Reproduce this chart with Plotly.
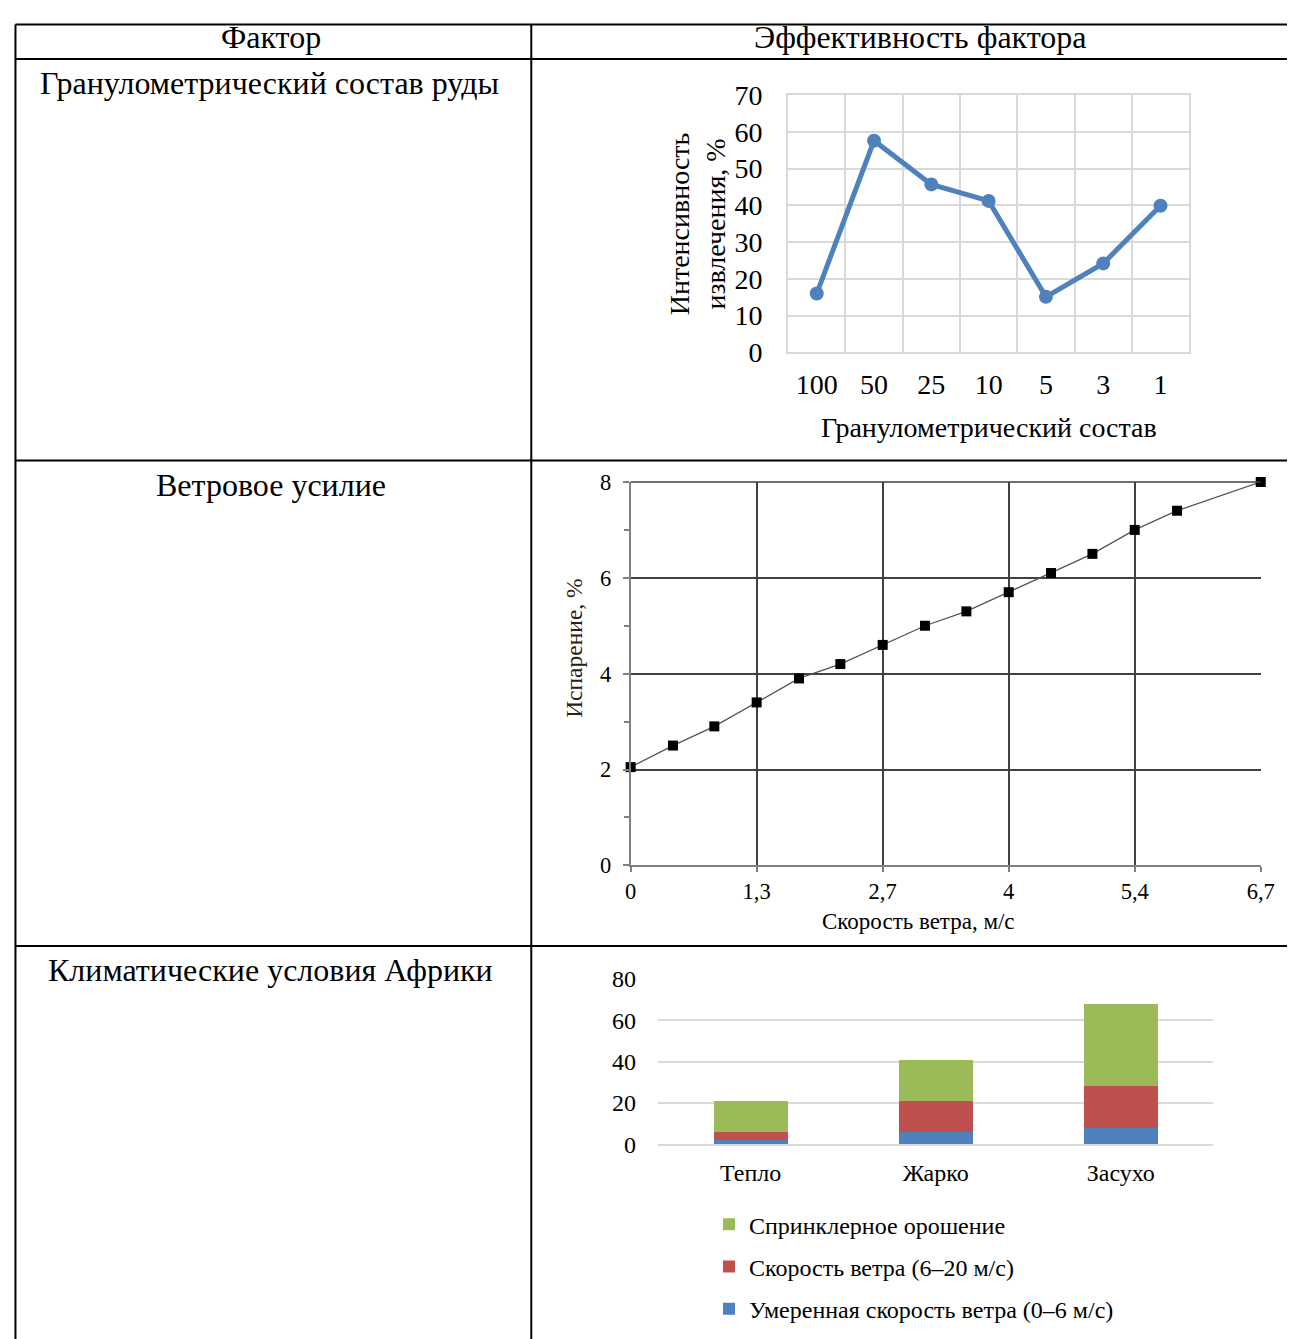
import plotly.graph_objects as go

# ---------------- data ----------------
# Table texts
header_left = "Фактор"
header_right = "Эффективность фактора"
factor_names = ["Гранулометрический состав руды", "Ветровое усилие", "Климатические условия Африки"]

# Chart 1: extraction intensity vs granulometric composition
grain_sizes = ["100", "50", "25", "10", "5", "3", "1"]
extraction = [16.0, 57.6, 45.7, 41.2, 15.1, 24.2, 39.9]
c1_ytitle = "Интенсивность<br>извлечения, %"
c1_xtitle = "Гранулометрический состав"

# Chart 2: evaporation vs wind speed
wind_speed = [0, 0.45, 0.89, 1.34, 1.79, 2.23, 2.68, 3.13, 3.57, 4.02, 4.47, 4.91, 5.36, 5.81, 6.7]
evaporation = [2.05, 2.5, 2.9, 3.4, 3.9, 4.2, 4.6, 5.0, 5.3, 5.7, 6.1, 6.5, 7.0, 7.4, 8.0]
wind_tickvals = [0, 1.34, 2.68, 4.02, 5.36, 6.7]
wind_ticktext = ["0", "1,3", "2,7", "4", "5,4", "6,7"]
c2_ytitle = "Испарение, %"
c2_xtitle = "Скорость ветра, м/с"

# Chart 3: climate conditions (stacked)
climates = ["Тепло", "Жарко", "Засухо"]
moderate_wind = [2, 6, 8]
strong_wind = [4, 15, 20]
sprinkler = [15, 20, 40]
s_moderate = "Умеренная скорость ветра (0–6 м/с)"
s_strong = "Скорость ветра (6–20 м/с)"
s_sprinkler = "Спринклерное орошение"

# ---------------- layout helpers (target pixel -> paper fraction) ----------------
AX, SX = 13.0, 0.986
AY, SY = 23.0, 0.976
W = 1300
H = 1348


def fx(x):
    return (x - AX) / SX


def fy(y):
    return (y - AY) / SY


def px(x):
    return min(max(fx(x), 1.5), W) / W


def py(y):
    return 1 - min(max(fy(y), 1.5), H) / H


FONT = "Liberation Serif"

fig = go.Figure()

# Chart 1
fig.add_trace(go.Scatter(
    x=grain_sizes, y=extraction, mode="lines+markers",
    line=dict(color="#4F81BD", width=5),
    marker=dict(color="#4F81BD", size=14),
    xaxis="x", yaxis="y", showlegend=False, cliponaxis=False))

# Chart 2
fig.add_trace(go.Scatter(
    x=wind_speed, y=evaporation, mode="lines+markers",
    line=dict(color="#555555", width=1.3),
    marker=dict(color="#000000", size=10, symbol="square"),
    xaxis="x2", yaxis="y2", showlegend=False, cliponaxis=False))

# Chart 3
for rank, (name, vals, col) in enumerate([(s_moderate, moderate_wind, "#4F81BD"),
                                          (s_strong, strong_wind, "#C0504D"),
                                          (s_sprinkler, sprinkler, "#9BBB59")]):
    fig.add_trace(go.Bar(x=climates, y=vals, name=name, marker=dict(color=col, line=dict(width=0)),
                         xaxis="x3", yaxis="y3", legendgroup=name, legendrank=1000 - rank))

light = "#D9D9D9"
dark = "#404040"
fig.update_layout(
    width=W, height=H,
    margin=dict(l=0, r=0, t=0, b=0),
    paper_bgcolor="white", plot_bgcolor="rgba(0,0,0,0)",
    font=dict(family=FONT, color="black"),
    barmode="stack", bargap=0.6,
    xaxis=dict(domain=[px(788), px(1190)], anchor="y", type="category",
               tickson="boundaries", showgrid=True, gridcolor=light, gridwidth=1.5,
               showline=True, mirror=True, linecolor=light, linewidth=1.5,
               ticks="", tickfont=dict(size=28), ticklabelstandoff=6, fixedrange=True),
    yaxis=dict(domain=[py(352), py(95)], anchor="x", range=[0, 70], dtick=10,
               showgrid=True, gridcolor=light, gridwidth=1.5, zeroline=False,
               showline=True, mirror=True, linecolor=light, linewidth=1.5,
               ticks="", tickfont=dict(size=28), ticklabelstandoff=18),
    xaxis2=dict(domain=[px(630.5), px(1261.5)], anchor="y2", range=[0, 6.7],
                tickvals=wind_tickvals, ticktext=wind_ticktext,
                showgrid=True, gridcolor=dark, gridwidth=1.6, zeroline=False,
                showline=True, linecolor="#808080", linewidth=2,
                ticks="outside", ticklen=5, tickcolor="#808080", tickwidth=1.5,
                tickfont=dict(size=22.5)),
    yaxis2=dict(domain=[py(864.5), py(481.5)], anchor="x2", range=[0, 8], dtick=2,
                showgrid=True, gridcolor=dark, gridwidth=1.6, zeroline=False,
                showline=True, linecolor="#808080", linewidth=2,
                ticks="outside", ticklen=6, tickcolor="#808080", tickwidth=1.5,
                minor=dict(dtick=1, ticks="outside", ticklen=5, tickcolor="#808080", showgrid=False),
                tickfont=dict(size=22.5), ticklabelstandoff=7),
    xaxis3=dict(domain=[px(658), px(1214)], anchor="y3", type="category",
                showgrid=False, showline=True, linecolor=light, linewidth=1.5,
                ticks="", tickfont=dict(size=24), ticklabelstandoff=6),
    yaxis3=dict(domain=[py(1143), py(978)], anchor="x3", range=[0, 80], dtick=20,
                showgrid=True, gridcolor=light, gridwidth=1.5, zeroline=False,
                showline=False, ticks="", tickfont=dict(size=24), ticklabelstandoff=21),
    legend=dict(x=px(709), y=py(1201), xanchor="left", yanchor="top",
                orientation="v", traceorder="grouped", tracegroupgap=8,
                font=dict(size=24), itemwidth=30, bgcolor="rgba(0,0,0,0)"),
)

# Table lines + top border of chart 2
shapes = []


def hline(y, x0=11, x1=1295):
    shapes.append(dict(type="line", xref="paper", yref="paper", x0=px(x0), x1=px(x1), y0=py(y), y1=py(y),
                       line=dict(color="black", width=2)))


def vline(x, y0=12, y1=1339):
    shapes.append(dict(type="line", xref="paper", yref="paper", x0=px(x), x1=px(x), y0=py(y0), y1=py(y1),
                       line=dict(color="black", width=2)))


for yy in [13, 59, 460, 945]:
    hline(yy)
vline(11)
vline(531)
shapes.append(dict(type="line", xref="x2 domain", yref="y2 domain", x0=0, x1=1, y0=1, y1=1,
                   line=dict(color=dark, width=1.6)))
fig.update_layout(shapes=shapes)

ann = []


def text(t, x, y, size, angle=0, color="black"):
    ann.append(dict(text=t, x=px(x), y=py(y), xref="paper", yref="paper", showarrow=False,
                    xanchor="center", yanchor="middle", textangle=angle,
                    font=dict(size=size, family=FONT, color=color)))


text(header_left, 270, 37, 32)
text(header_right, 920, 37, 32)
text(factor_names[0], 269, 83, 32)
text(factor_names[1], 270, 485, 32)
text(factor_names[2], 270, 969, 32)
text(c1_ytitle, 697, 224, 28, angle=-90)
text(c1_xtitle, 989, 427, 28)
text(c2_ytitle, 573, 647, 23.5, angle=-90, color="#2a2015")
text(c2_xtitle, 919, 921, 23)
fig.update_layout(annotations=ann)

fig.write_html("out.html")
